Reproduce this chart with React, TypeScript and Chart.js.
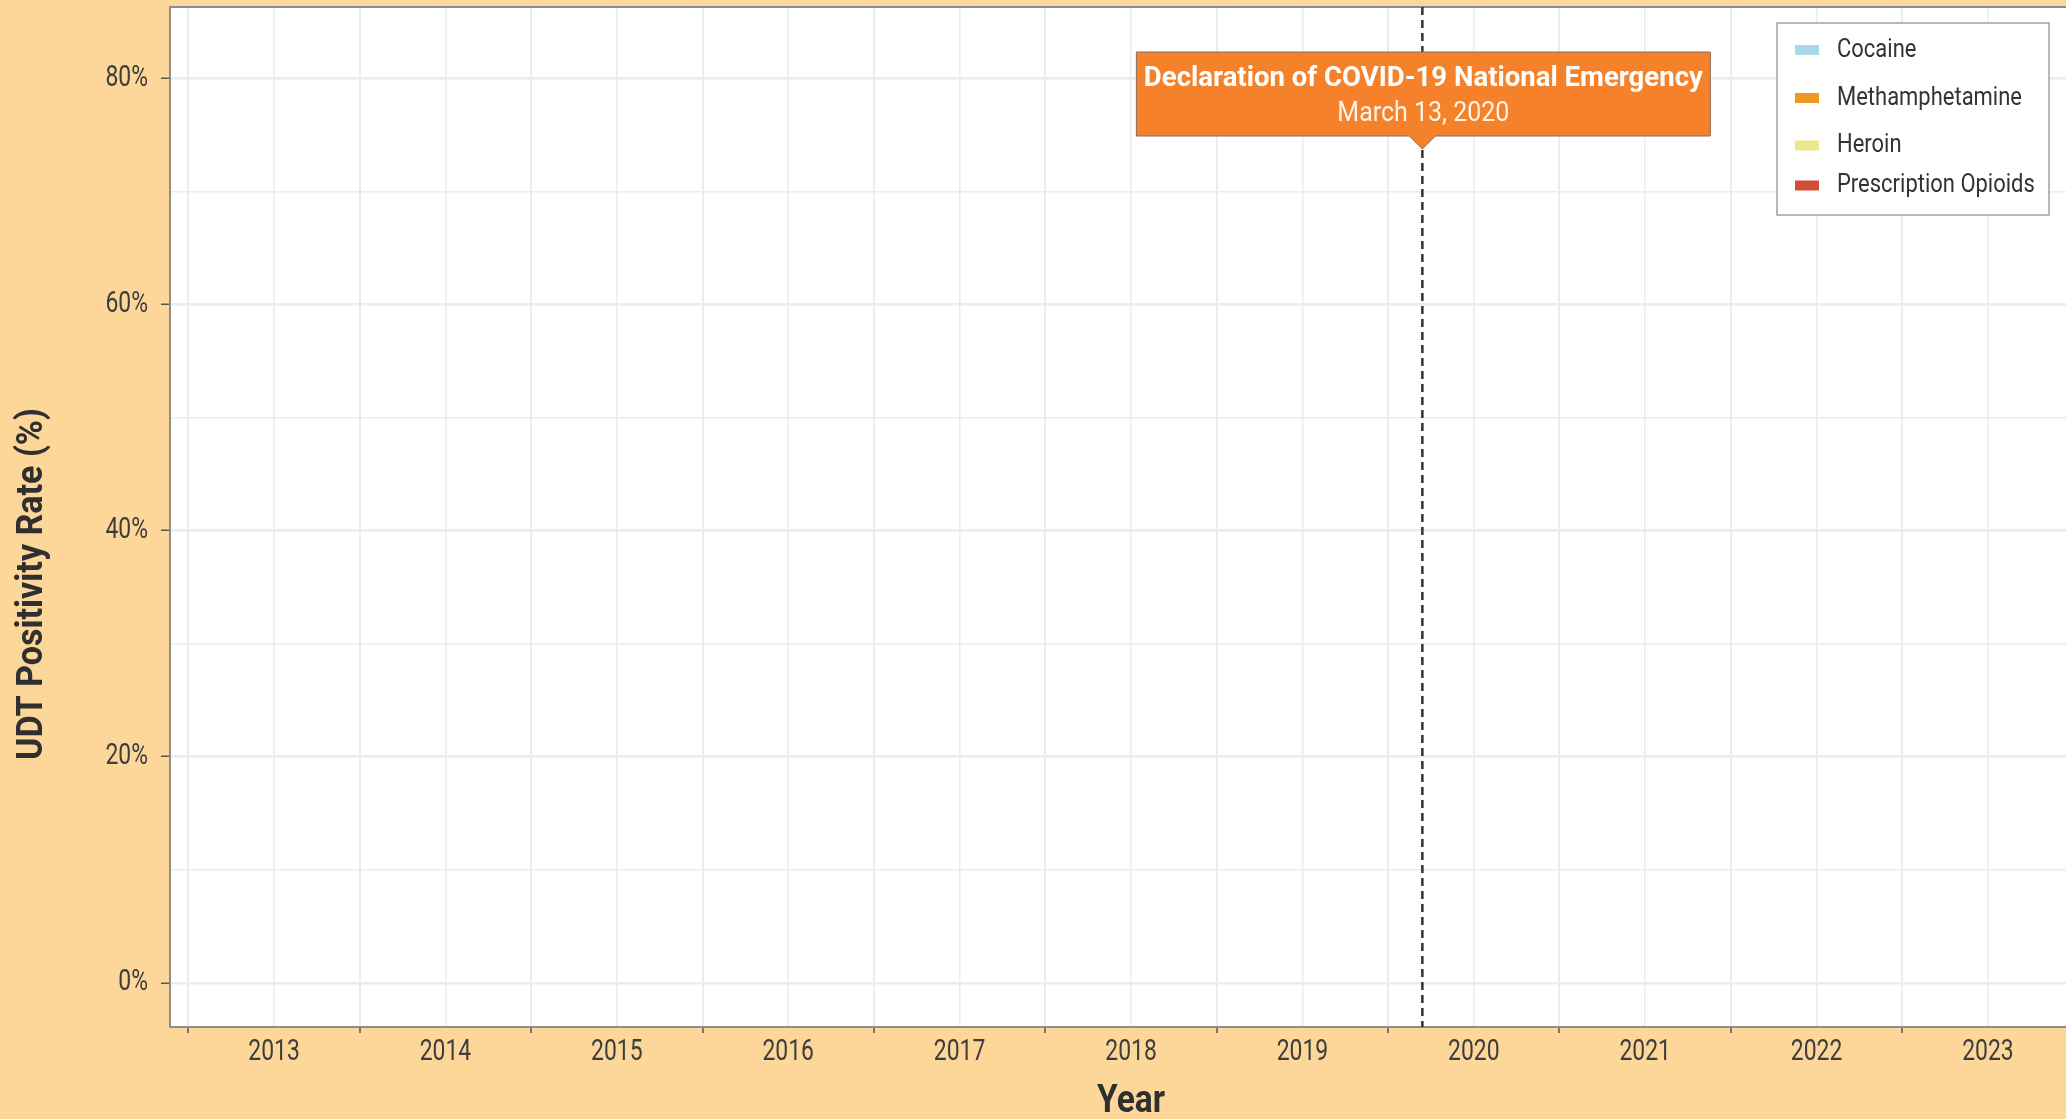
import React, { useEffect, useRef } from "react";
import { Chart, registerables } from "chart.js";

Chart.register(...registerables);

// ---- data ----
const YEARS = [2013, 2014, 2015, 2016, 2017, 2018, 2019, 2020, 2021, 2022, 2023];
const YEAR_BOUNDARIES = [2012.5, 2013.5, 2014.5, 2015.5, 2016.5, 2017.5, 2018.5, 2019.5, 2020.5, 2021.5, 2022.5, 2023.5];
const X_MIN = 2012.393;
const X_MAX = 2023.607;
const Y_TICKS = [0, 10, 20, 30, 40, 50, 60, 70, 80];
const Y_LABELED = [0, 20, 40, 60, 80];
const Y_MIN = -3.9;
const Y_MAX = 86.3;

const SERIES_NAMES = ["Cocaine", "Methamphetamine", "Heroin", "Prescription Opioids"];
const SERIES_COLORS = ["#A9D8EA", "#F0991E", "#EDE68A", "#D44D35"];
const COCAINE: number[] = [];
const METHAMPHETAMINE: number[] = [];
const HEROIN: number[] = [];
const PRESCRIPTION_OPIOIDS: number[] = [];
const SERIES_VALUES = [COCAINE, METHAMPHETAMINE, HEROIN, PRESCRIPTION_OPIOIDS];

const EVENT_X = 2019.7;
const EVENT_TITLE = "Declaration of COVID-19 National Emergency";
const EVENT_DATE = "March 13, 2020";

const X_TITLE = "Year";
const Y_TITLE = "UDT Positivity Rate (%)";

// ---- style ----
const FONT = "Roboto, 'DejaVu Sans Condensed', sans-serif";
const BG = "#FDD79A";
const GRID = "#EAECEF";
const TEXT = "#3d3d3d";

// draw text squeezed horizontally so that `ref` text would be `refWidth` px wide
function squeezed(ctx: any, text: string, x: number, y: number, font: string, ref: string, refWidth: number, align: string) {
  ctx.save();
  ctx.font = font;
  const sx = refWidth / ctx.measureText(ref).width;
  ctx.translate(x, y);
  ctx.scale(sx, 1);
  ctx.textAlign = align;
  ctx.textBaseline = "alphabetic";
  ctx.fillText(text, 0, 0);
  ctx.restore();
}

// condensed tick labels: positions come from Chart.js' own label items
function condensedLabels(this: any, chartArea: any) {
  const ctx = this.ctx;
  const items = this.getLabelItems(chartArea);
  for (const item of items) {
    if (!item.label) continue;
    const o = item.options;
    ctx.save();
    ctx.font = item.font.string;
    const sx = 51.5 / ctx.measureText("2013").width;
    ctx.translate(o.translation[0], o.translation[1]);
    ctx.scale(sx, 1);
    ctx.fillStyle = o.color;
    ctx.textAlign = o.textAlign;
    ctx.textBaseline = o.textBaseline;
    ctx.fillText(item.label, 0, item.textOffset);
    ctx.restore();
  }
}

const overlayPlugin = {
  id: "overlay",
  beforeDraw(chart: any) {
    const { ctx, chartArea: a } = chart;
    ctx.save();
    ctx.fillStyle = "#FFFFFF";
    ctx.fillRect(a.left, a.top, a.right - a.left, a.bottom - a.top);
    ctx.restore();
  },
  afterDraw(chart: any) {
    const { ctx, chartArea: a, scales } = chart;
    ctx.save();
    // panel border
    ctx.strokeStyle = "#8C8C8C";
    ctx.lineWidth = 2;
    ctx.strokeRect(a.left, a.top, a.right - a.left, a.bottom - a.top);

    // event line
    const ex = scales.x.getPixelForValue(EVENT_X);
    ctx.strokeStyle = "#333333";
    ctx.lineWidth = 2.5;
    ctx.setLineDash([8, 5]);
    ctx.beginPath();
    ctx.moveTo(ex, a.top);
    ctx.lineTo(ex, a.bottom);
    ctx.stroke();
    ctx.setLineDash([]);

    // annotation box
    const bw = 574, bTop = 52, bBot = 136, tipY = 149, half = 13;
    const bl = ex - bw / 2 + 1;
    ctx.fillStyle = "#F5822A";
    ctx.strokeStyle = "#8A6A55";
    ctx.lineWidth = 1;
    ctx.beginPath();
    ctx.moveTo(bl, bTop);
    ctx.lineTo(bl + bw, bTop);
    ctx.lineTo(bl + bw, bBot);
    ctx.lineTo(ex + half, bBot);
    ctx.lineTo(ex, tipY);
    ctx.lineTo(ex - half, bBot);
    ctx.lineTo(bl, bBot);
    ctx.closePath();
    ctx.fill();
    ctx.stroke();
    ctx.fillStyle = "#FFFFFF";
    squeezed(ctx, EVENT_TITLE, bl + bw / 2, 86, `bold 27px ${FONT}`, EVENT_TITLE, 559, "center");
    ctx.fillStyle = "#FFF3EA";
    squeezed(ctx, EVENT_DATE, bl + bw / 2, 120.5, `28px ${FONT}`, EVENT_DATE, 172, "center");

    // legend
    const lx = 1777, ly = 23, lw = 272, lh = 192;
    ctx.fillStyle = "#FFFFFF";
    ctx.fillRect(lx, ly, lw, lh);
    ctx.strokeStyle = "#A0A0A0";
    ctx.lineWidth = 1.5;
    ctx.strokeRect(lx, ly, lw, lh);
    const offs = [27, 75, 122.5, 162.5];
    chart.data.datasets.forEach((ds: any, i: number) => {
      const cy = ly + offs[i];
      ctx.fillStyle = ds.backgroundColor;
      ctx.fillRect(lx + 18, cy - 5, 24, 10);
      ctx.fillStyle = "#333333";
      squeezed(ctx, ds.label, lx + 60, cy + 6.5, `26px ${FONT}`, "Methamphetamine", 185, "left");
    });

    // axis titles
    ctx.fillStyle = "#2f2f2f";
    squeezed(ctx, X_TITLE, (a.left + a.right) / 2, 1112, `bold 38px ${FONT}`, X_TITLE, 68, "center");
    ctx.translate(42, 584);
    ctx.rotate(-Math.PI / 2);
    squeezed(ctx, Y_TITLE, 0, 0, `bold 36px ${FONT}`, Y_TITLE, 352, "center");
    ctx.restore();
  },
};

export default function App() {
  const ref = useRef<HTMLCanvasElement | null>(null);

  useEffect(() => {
    if (!ref.current) return;
    document.body.style.margin = "0";
    const xTickValues = [...YEAR_BOUNDARIES, ...YEARS].sort((p, q) => p - q);
    const chart = new Chart(ref.current, {
      type: "line",
      data: {
        datasets: SERIES_NAMES.map((name, i) => ({
          label: name,
          data: SERIES_VALUES[i].map((v, j) => ({ x: YEARS[j], y: v })),
          borderColor: SERIES_COLORS[i],
          backgroundColor: SERIES_COLORS[i],
        })),
      },
      options: {
        animation: false,
        responsive: false,
        devicePixelRatio: 1,
        layout: { padding: { top: 7, right: 8, left: 0, bottom: 0 } },
        plugins: { legend: { display: false }, tooltip: { enabled: false } },
        scales: {
          x: {
            type: "linear",
            min: X_MIN,
            max: X_MAX,
            afterBuildTicks: (s: any) => {
              s.ticks = xTickValues.map((v) => ({ value: v }));
            },
            afterFit: (s: any) => {
              s.height = 92;
              s.paddingLeft = 0;
              s.paddingRight = 0;
              s.drawLabels = condensedLabels;
            },
            ticks: {
              autoSkip: false,
              maxRotation: 0,
              minRotation: 0,
              padding: 1,
              color: TEXT,
              font: { family: FONT, size: 30 },
              callback: (v: any) => (Number.isInteger(v) ? String(v) : ""),
            },
            grid: {
              color: GRID,
              lineWidth: (c: any) => (Number.isInteger(c.tick?.value) ? 1.5 : 2),
              tickLength: 6,
              tickWidth: 1.5,
              tickColor: (c: any) => (Number.isInteger(c.tick?.value) ? "rgba(0,0,0,0)" : "#555555"),
            },
            border: { display: false },
            title: { display: false },
          },
          y: {
            type: "linear",
            min: Y_MIN,
            max: Y_MAX,
            afterBuildTicks: (s: any) => {
              s.ticks = Y_TICKS.map((v) => ({ value: v }));
            },
            afterFit: (s: any) => {
              s.width = 170;
              s.paddingTop = 0;
              s.paddingBottom = 0;
              s.drawLabels = condensedLabels;
            },
            ticks: {
              padding: 13,
              color: TEXT,
              font: { family: FONT, size: 30 },
              callback: (v: any) => (Y_LABELED.includes(v) ? `${v}%` : ""),
            },
            grid: {
              color: GRID,
              lineWidth: (c: any) => (Y_LABELED.includes(c.tick?.value) ? 2.5 : 1.5),
              tickLength: 9,
              tickWidth: 1.5,
              tickColor: (c: any) => (Y_LABELED.includes(c.tick?.value) ? "#555555" : "rgba(0,0,0,0)"),
            },
            border: { display: false },
          },
        },
      },
      plugins: [overlayPlugin],
    } as any);
    return () => chart.destroy();
  }, []);

  return (
    <div
      style={{
        position: "fixed",
        left: 0,
        top: 0,
        width: "100vw",
        height: "100vh",
        overflow: "hidden",
        background: BG,
      }}
    >
      <canvas ref={ref} width={2100} height={1119} style={{ display: "block" }} />
    </div>
  );
}
